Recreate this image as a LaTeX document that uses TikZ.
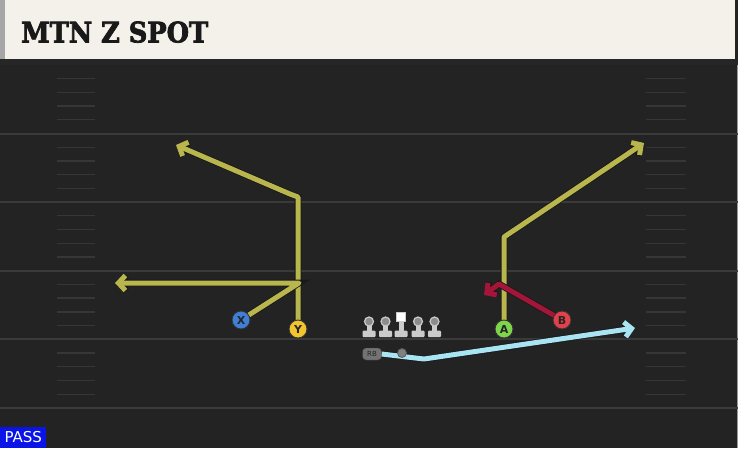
\documentclass[tikz,border=0pt]{standalone}
\usepackage{fontspec}
\usepackage{graphicx}
\newfontfamily\titlefont[FakeBold=2.5]{DejaVu Serif Condensed}
\newfontfamily\labelfont{DejaVu Sans}
\usetikzlibrary{arrows.meta,positioning}

\definecolor{cream}{HTML}{F4F1EA}
\definecolor{field}{HTML}{232323}
\definecolor{yardline}{HTML}{3A3A3A}
\definecolor{hashline}{HTML}{363636}
\definecolor{olive}{HTML}{B8B64C}
\definecolor{crimson}{HTML}{A3163A}
\definecolor{skyblue}{HTML}{A8E4F2}
\definecolor{xblue}{HTML}{3F7FD8}
\definecolor{yyellow}{HTML}{F2C530}
\definecolor{agreen}{HTML}{7ED44A}
\definecolor{bred}{HTML}{E2414A}
\definecolor{passblue}{HTML}{0A14E6}
\definecolor{linegray}{HTML}{CBCBCB}

\begin{document}
\begin{tikzpicture}[x=1pt,y=-1pt,
    player/.style={circle, draw=black!80, line width=0.9pt, fill=#1,
                   minimum size=18pt, inner sep=0pt,
                   font=\labelfont\bfseries\fontsize{11}{11}\selectfont, text=black!85},
    route/.style={draw=#1, line width=5pt, line join=round,
                  preaction={draw=black!90, line width=6.6pt}},
    tip/.style={-{Straight Barb[length=7pt,width=15pt]}},
    yard/.style={yardline, line width=2pt},
    hash/.style={hashline, line width=1.3pt}]

  % field and header
  \useasboundingbox (0,0) rectangle (738,448);
  \fill[field] (0,0) rectangle (738,448);
  \fill[black!85] (0,59) rectangle (738,65);
  \fill[cream] (0,0) rectangle (735,59);
  \fill[black!35] (0,0) rectangle (5,59);
  \draw[black!40, line width=1pt] (737.5,65) -- (737.5,448);

  \node[anchor=south west, inner sep=0pt, text=black!90] (title) at (21,43)
    {\resizebox{187pt}{21pt}{\titlefont\bfseries MTN Z SPOT}};

  % yard lines and hash marks
  \foreach \j in {0,...,4}
    \draw[yard] (0,133.5+68.6*\j) -- (738,133.5+68.6*\j);
  \foreach \k in {-4,...,20}{
    \pgfmathtruncatemacro{\m}{mod(\k+20,5)}
    \ifnum\m=0 \else
      \draw[hash] (57,133.5+13.72*\k) -- (95,133.5+13.72*\k);
      \draw[hash] (646,133.5+13.72*\k) -- (686,133.5+13.72*\k);
    \fi}

  % offensive line
  \foreach \x [count=\i] in {369,385.5,418,434.5}{
    \fill[linegray, rounded corners=1pt] (\x-6.5,330.5) rectangle (\x+6.5,337);
    \fill[linegray] (\x-2.5,323) rectangle (\x+2.5,332);
    \node[circle, fill=black!45, draw=linegray, line width=1.2pt,
          minimum size=9pt, inner sep=0pt] (ol\i) at (\x,321.5) {};
  }
  \fill[linegray, rounded corners=1pt] (394.5,330.5) rectangle (407.5,337);
  \fill[linegray] (398.5,320) rectangle (403.5,332);
  \node[rectangle, fill=white, draw=linegray, line width=0.6pt,
        minimum size=9pt, inner sep=0pt] (C) at (401,317) {};

  % backfield
  \node[rectangle, rounded corners=3.5pt, fill=black!55, draw=black!75,
        minimum width=19pt, minimum height=12pt, inner sep=0pt,
        font=\labelfont\fontsize{7}{7}\selectfont, text=black!85] (RB) at (372,354) {RB};

  % route points
  \coordinate (y1) at (298,197);
  \coordinate (y2) at (290,194);
  \coordinate (yend) at (176,145);
  \coordinate (x1) at (299,283);
  \coordinate (xend) at (115,283);
  \coordinate (a1) at (504,237);
  \coordinate (aend) at (644,143);
  \coordinate (b1) at (499,284);
  \coordinate (bend) at (484,295);
  \coordinate (r1) at (424,359);
  \coordinate (rend) at (635,328);

  % players (positions)
  \path (241,320) coordinate (Xp) (298,329) coordinate (Yp)
        (504,329) coordinate (Ap) (562,320) coordinate (Bp);

  % routes
  \draw[route=olive, tip] (Yp) -- (y1) -- (y2) -- (yend);
  \draw[route=olive, tip] (Xp) -- (x1) -- (xend);
  \draw[route=olive, tip] (Ap) -- (a1) -- (aend);
  \draw[route=crimson, tip] (Bp) -- (b1) -- (bend);
  \draw[route=skyblue, tip] (RB.east) -- (r1) -- (rend);
  \node[circle, fill=black!50, draw=black!65, line width=0.8pt,
        minimum size=9pt, inner sep=0pt] (QB) at (402,353) {};

  \node[player=xblue] (X) at (Xp) {X};
  \node[player=yyellow] (Y) at (Yp) {Y};
  \node[player=agreen] (A) at (Ap) {A};
  \node[player=bred] (B) at (Bp) {B};

  % play type
  \node[anchor=south west, fill=passblue, text=white, inner sep=0pt,
        minimum width=46pt, minimum height=21pt,
        font=\labelfont\fontsize{15}{15}\selectfont] (pass) at (0,448) {PASS};
\end{tikzpicture}
\end{document}
